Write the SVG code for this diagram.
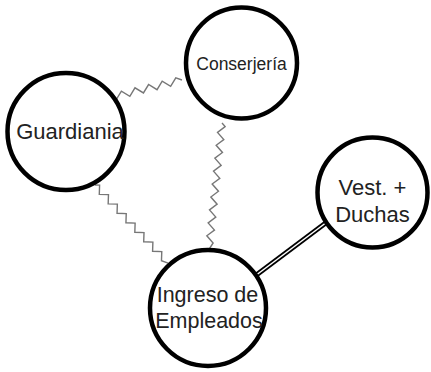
<svg xmlns="http://www.w3.org/2000/svg" width="431" height="372" viewBox="0 0 431 372">
<style>
.node circle{fill:#fff;stroke:#000;stroke-width:4.5}
.node text{font-family:"Liberation Sans",Arial,sans-serif;fill:#222;text-anchor:middle}
.zig{fill:none;stroke:#777;stroke-width:1.4;stroke-linejoin:miter}
</style>
<rect width="431" height="372" fill="#fff"/>
<g id="connectors">
<path class="zig" transform="translate(112,97) rotate(-13.65)" d="M0 0 L3.5 3.5 L10.5 -3.5 L17.5 3.5 L24.5 -3.5 L31.5 3.5 L38.5 -3.5 L45.5 3.5 L52.5 -3.5 L59.5 3.5 L66.5 -3.5 L72 0"/>
<path class="zig" transform="translate(222,123) rotate(95.9)" d="M0 0 L3.25 -3.5 L9.75 3.5 L16.25 -3.5 L22.75 3.5 L29.25 -3.5 L35.75 3.5 L42.25 -3.5 L48.75 3.5 L55.25 -3.5 L61.75 3.5 L68.25 -3.5 L74.75 3.5 L81.25 -3.5 L87.75 3.5 L94.25 -3.5 L100.75 3.5 L107.25 -3.5 L113.75 3.5 L120.25 -3.5 L127 0"/>
<path class="zig" transform="translate(95,185) rotate(46.9)" d="M0 0 L3.25 -3.25 L9.75 3.25 L16.25 -3.25 L22.75 3.25 L29.25 -3.25 L35.75 3.25 L42.25 -3.25 L48.75 3.25 L55.25 -3.25 L61.75 3.25 L68.25 -3.25 L74.75 3.25 L81.25 -3.25 L87.75 3.25 L94.25 -3.25 L100.75 3.25 L107 0"/>
<line x1="255" y1="276" x2="327" y2="222" stroke="#000" stroke-width="5"/>
<line x1="255" y1="276" x2="327" y2="222" stroke="#fff" stroke-width="1.5"/>
</g>
<g id="conserjeria" class="node">
<circle cx="241.5" cy="63" r="55.5"/>
<text x="241.5" y="70" font-size="17.5">Conserjería</text>
</g>
<g id="guardiania" class="node">
<circle cx="66" cy="131.5" r="58.5"/>
<text x="70" y="139" font-size="22">Guardiania</text>
</g>
<g id="vestuarios" class="node">
<circle cx="372.5" cy="192.5" r="55"/>
<text x="372.5" y="195" font-size="22">Vest. +</text>
<text x="372.5" y="222" font-size="22">Duchas</text>
</g>
<g id="ingreso" class="node">
<circle cx="208" cy="308" r="58"/>
<text x="207.5" y="302" font-size="21.5">Ingreso de</text>
<text x="209" y="328" font-size="21.5">Empleados</text>
</g>
</svg>
